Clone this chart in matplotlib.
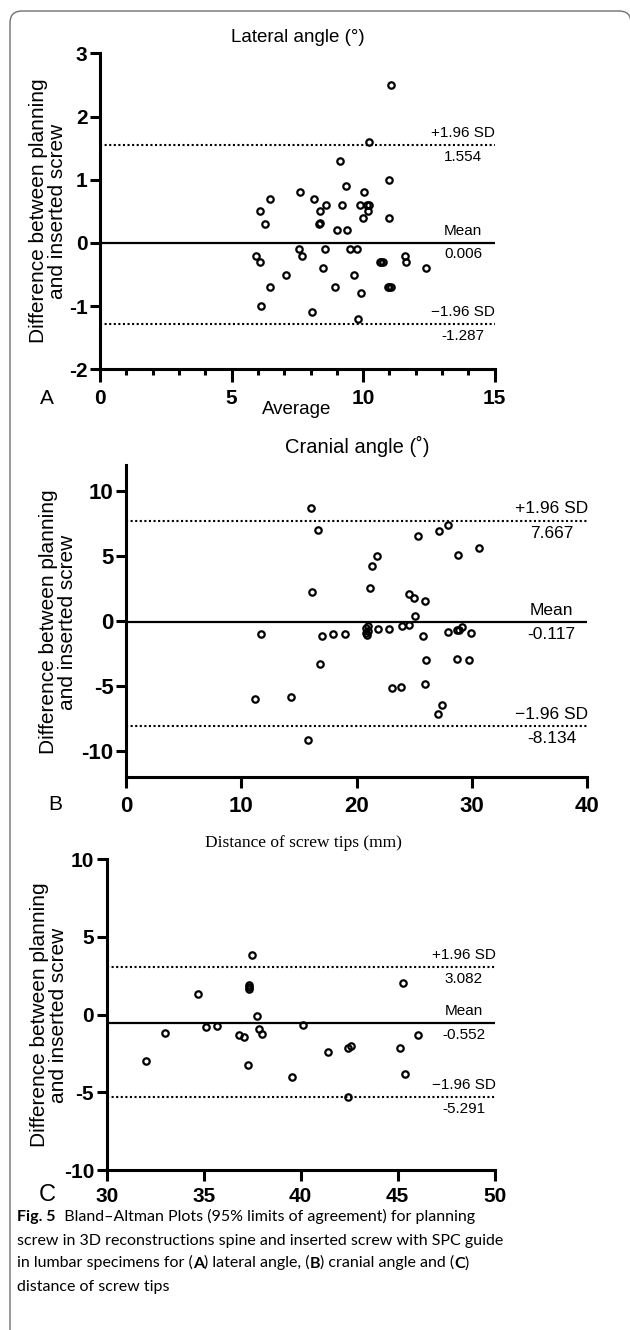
import matplotlib
matplotlib.use('Agg')
import matplotlib.pyplot as plt
from matplotlib import font_manager as fm
from matplotlib.patches import FancyBboxPatch
from matplotlib.transforms import IdentityTransform
from matplotlib.text import Annotation

plt.rcParams['axes.unicode_minus'] = False


def pick(cands):
    for c in cands:
        try:
            fm.findfont(fm.FontProperties(family=c), fallback_to_default=False)
            return c
        except Exception:
            pass
    return 'DejaVu Sans'


NARROW = pick(['Liberation Sans Narrow', 'Liberation Sans'])
SANS = pick(['Liberation Sans', 'DejaVu Sans'])
SERIF = pick(['Liberation Serif', 'DejaVu Serif'])
CAPFONT = pick(['Lato', 'Open Sans', 'Noto Sans'])

# ---------------- data ----------------
# Panel A: lateral angle
lat_avg = [11.05, 10.21, 9.12, 11.0, 9.34, 10.02, 7.6, 6.46, 8.13, 8.59, 9.19,
           9.88, 10.14, 10.24, 6.07, 8.35, 10.17, 11.0, 10.0, 6.27, 8.34, 8.36,
           9.0, 9.39, 7.55, 8.55, 9.51, 9.77, 5.92, 7.69, 11.6, 6.07, 10.63,
           10.69, 10.74, 11.64, 12.38, 8.49, 7.06, 9.64, 6.46, 8.94, 10.95,
           11.0, 11.06, 9.9, 6.12, 8.05, 9.79]
lat_diff = [2.5, 1.6, 1.3, 1.0, 0.9, 0.8, 0.8, 0.7, 0.7, 0.6, 0.6,
            0.6, 0.6, 0.6, 0.5, 0.5, 0.5, 0.4, 0.4, 0.3, 0.3, 0.32,
            0.2, 0.2, -0.1, -0.1, -0.1, -0.1, -0.2, -0.2, -0.2, -0.3, -0.3,
            -0.3, -0.3, -0.3, -0.4, -0.4, -0.5, -0.5, -0.7, -0.7, -0.7,
            -0.7, -0.7, -0.8, -1.0, -1.1, -1.2]
lat_stats = [1.554, 0.006, -1.287]

# Panel B: cranial angle
cra_avg = [16.0, 16.68, 27.14, 27.92, 25.35, 30.58, 21.73, 28.82, 21.33, 21.18,
           16.13, 24.54, 25.0, 25.95, 25.03, 23.96, 24.5, 22.83, 21.85, 21.0,
           20.8, 20.95, 20.78, 20.87, 11.7, 17.0, 17.98, 18.96, 25.72, 27.92,
           28.67, 28.9, 29.1, 29.9, 16.82, 26.0, 28.73, 29.77, 25.95, 23.03,
           23.87, 11.18, 14.34, 27.43, 27.02, 15.75]
cra_diff = [8.7, 7.0, 6.9, 7.35, 6.5, 5.6, 5.0, 5.1, 4.2, 2.5,
            2.2, 2.1, 1.75, 1.5, 0.4, -0.4, -0.3, -0.6, -0.6, -0.4,
            -0.57, -0.77, -0.95, -1.1, -1.0, -1.2, -1.0, -1.0, -1.13, -0.87,
            -0.67, -0.72, -0.44, -0.9, -3.3, -3.0, -2.9, -3.0, -4.9, -5.2,
            -5.1, -6.0, -5.9, -6.5, -7.2, -9.15]
cra_stats = [7.667, -0.117, -8.134]

# Panel C: distance of screw tips
dis_avg = [32.03, 33.02, 34.73, 35.12, 35.67, 36.82, 37.1, 37.29, 37.34, 37.35,
           37.34, 37.51, 37.73, 37.85, 38.0, 39.54, 40.1, 41.43, 42.46, 42.61,
           42.46, 45.14, 45.26, 45.4, 46.07]
dis_diff = [-3.0, -1.2, 1.35, -0.82, -0.75, -1.29, -1.42, -3.22, 1.9, 1.78,
            1.63, 3.82, -0.11, -0.92, -1.22, -4.01, -0.64, -2.42, -2.15, -2.0,
            -5.32, -2.15, 2.06, -3.8, -1.33]
dis_stats = [3.082, -0.552, -5.291]

stat_names = ['+1.96 SD', 'Mean', '\u22121.96 SD']

W, H = 630, 1330
fig = plt.figure(figsize=(W / 100, H / 100), dpi=100)


def fx(x):
    return x / W


def fy(y):
    return 1 - y / H


def ftext(x, y, s, **kw):
    return fig.text(fx(x), fy(y), s, **kw)


def panel(rect, xs, ys, stats, xlim, ylim, xticks, yticks, lab_x,
          tick_fs=15, lab_fs=11, minor=None, xtlen=13, xpad=6):
    l, t, r, b = rect
    ax = fig.add_axes([fx(l), fy(b), (r - l) / W, (b - t) / H])
    ax.set_xlim(*xlim)
    ax.set_ylim(*ylim)
    for s in ['top', 'right']:
        ax.spines[s].set_visible(False)
    for s in ['left', 'bottom']:
        ax.spines[s].set_linewidth(2.2)
    ax.set_xticks(xticks)
    ax.set_yticks(yticks)
    ax.set_xticklabels([str(v) for v in xticks])
    ax.set_yticklabels([str(v) for v in yticks])
    ax.tick_params(axis='x', which='major', length=xtlen * 0.72, width=2.2,
                   pad=xpad * 0.72, labelsize=tick_fs)
    ax.tick_params(axis='y', which='major', length=7.5, width=2.2, pad=1.5,
                   labelsize=tick_fs)
    if minor is not None:
        ax.set_xticks(minor, minor=True)
        ax.tick_params(axis='x', which='minor', length=4.5, width=2.2)
    for lbl in ax.get_xticklabels() + ax.get_yticklabels():
        lbl.set_fontfamily(NARROW)
        lbl.set_fontweight('bold')
    up, mean, lo = stats
    ax.plot(xlim, [mean, mean], color='black', lw=1.6, solid_capstyle='butt')
    for v in (up, lo):
        ax.plot(xlim, [v, v], color='black', lw=1.5, linestyle=(0, (1, 1.2)))
    ax.plot(xs, ys, linestyle='none', marker='o', markersize=4.6,
            markerfacecolor='none', markeredgecolor='black', markeredgewidth=1.6,
            clip_on=False)
    for v, name in zip(stats, stat_names):
        ax.annotate(name, xy=(lab_x, v), xytext=(0, 3.5), textcoords='offset points',
                    ha='center', va='bottom', fontsize=lab_fs, family=NARROW)
        ax.annotate('%.3f' % v, xy=(lab_x, v), xytext=(0, -3.5),
                    textcoords='offset points', ha='center', va='top',
                    fontsize=lab_fs, family=NARROW)
    return ax


ylab = 'Difference between planning\nand inserted screw'

# Panel A
axA = panel((100, 53.3, 494.7, 369.3), lat_avg, lat_diff, lat_stats, (0, 15), (-2, 3),
            [0, 5, 10, 15], [-2, -1, 0, 1, 2, 3], 13.8,
            minor=list(range(0, 16)), xtlen=13, xpad=7)
ftext(298, 37, 'Lateral angle (\u00b0)', ha='center', va='center', fontsize=13.5,
      family=NARROW)
ftext(297, 410, 'Average', ha='center', va='center', fontsize=13.5, family=NARROW)
ftext(48, 211, ylab, ha='center', va='center', rotation=90, fontsize=15,
      family=SANS, linespacing=1.0)
ftext(47, 398, 'A', ha='center', va='center', fontsize=15, family=NARROW)

# Panel B
axB = panel((126, 465, 587.3, 776.7), cra_avg, cra_diff, cra_stats, (0, 40), (-12, 12),
            [0, 10, 20, 30, 40], [-10, -5, 0, 5, 10], 36.9,
            tick_fs=16, lab_fs=12.5, xtlen=11, xpad=8)
ftext(357, 446, 'Cranial angle (\u02da)', ha='center', va='center', fontsize=14.5,
      family=NARROW)
ftext(58, 622, ylab, ha='center', va='center', rotation=90, fontsize=15,
      family=SANS, linespacing=1.0)
ftext(55, 805, 'B', ha='center', va='center', fontsize=15, family=NARROW)

# Panel C
axC = panel((106.7, 859.3, 494.7, 1170), dis_avg, dis_diff, dis_stats, (30, 50), (-10, 10),
            [30, 35, 40, 45, 50], [-10, -5, 0, 5, 10], 48.4,
            xtlen=11, xpad=6)
ftext(303, 843, 'Distance of screw tips (mm)', ha='center', va='center', fontsize=12.5,
      family=SERIF)
ftext(49, 1015, ylab, ha='center', va='center', rotation=90, fontsize=15,
      family=SANS, linespacing=1.0)
ftext(47, 1195, 'C', ha='center', va='center', fontsize=17, family=NARROW)

# Caption: fit the font size so that the second line spans the reference width
cap_lines = [
    [('Fig. 5', 'bold'), ('  Bland\u2013Altman Plots (95% limits of agreement) for planning', 'normal')],
    [('screw in 3D reconstructions spine and inserted screw with SPC guide', 'normal')],
    [('in lumbar specimens for (', 'normal'), ('A', 'bold'), (') lateral angle, (', 'normal'),
     ('B', 'bold'), (') cranial angle and (', 'normal'), ('C', 'bold'), (')', 'normal')],
    [('distance of screw tips', 'normal')],
]
renderer = fig.canvas.get_renderer()
probe = ftext(17, 1244, cap_lines[1][0][0], ha='left', va='baseline', fontsize=12,
              family=CAPFONT)
pw = probe.get_window_extent(renderer).width
probe.remove()
cap_fs = 12 * 486.0 / pw

baselines = [1221, 1244.5, 1267.5, 1290.5]
for runs, yb in zip(cap_lines, baselines):
    prev = None
    for txt, wt in runs:
        if prev is None:
            prev = ftext(17, yb, txt, ha='left', va='baseline', fontsize=cap_fs,
                         family=CAPFONT, fontweight=wt)
        else:
            prev = fig.add_artist(Annotation(
                txt, xy=(1, fy(yb)), xycoords=(prev, 'figure fraction'),
                ha='left', va='baseline', fontsize=cap_fs, family=CAPFONT,
                fontweight=wt))

# Frame
frame = FancyBboxPatch((10, -30), 621, H - 11 + 30,
                       boxstyle='round,pad=0,rounding_size=12',
                       transform=IdentityTransform(), facecolor='none',
                       edgecolor='#707070', linewidth=1.0)
fig.add_artist(frame)

fig.savefig('out.png', dpi=100)
